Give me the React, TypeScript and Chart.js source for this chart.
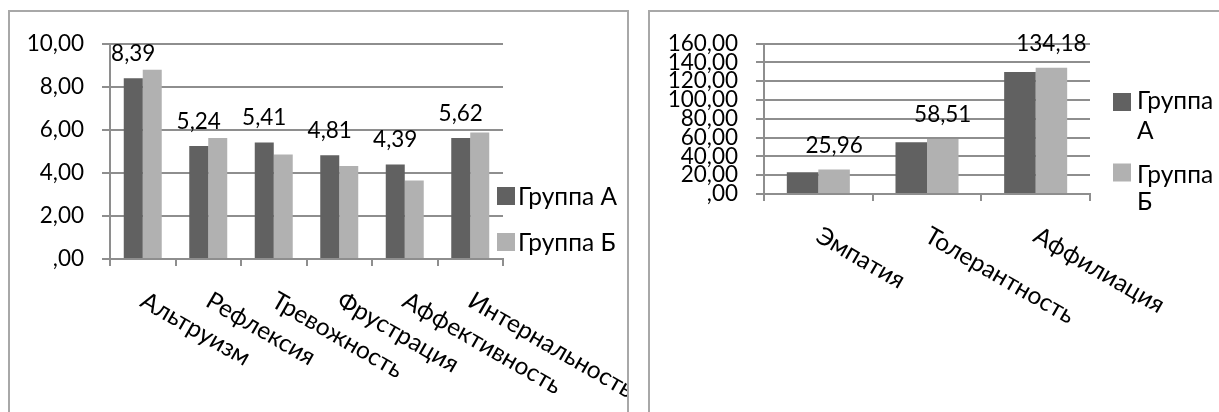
import React, { useEffect, useRef } from "react";
import { Chart, registerables } from "chart.js";

Chart.register(...registerables);

// ---- data ----
const seriesNames = ["Группа А", "Группа Б"];

const leftCategories = [
  "Альтруизм",
  "Рефлексия",
  "Тревожность",
  "Фрустрация",
  "Аффективность",
  "Интернальность",
];
const leftGroupA = [8.39, 5.24, 5.41, 4.81, 4.39, 5.62];
const leftGroupB = [8.78, 5.62, 4.85, 4.31, 3.64, 5.87];
const leftAxisMax = 10;
const leftAxisStep = 2;

const rightCategories = ["Эмпатия", "Толерантность", "Аффилиация"];
const rightGroupA = [23.0, 54.9, 129.7];
const rightGroupB = [25.96, 58.51, 134.18];
const rightAxisMax = 160;
const rightAxisStep = 20;

// ---- styles ----
const FONT = "Lato, 'Open Sans', sans-serif";
const FONT_SIZE = 22.5;
const TEXT_SIZE = 24.5;
const GRID = "#8e8e8e";
const DARK = "#616161";
const LIGHT = "#b1b1b1";

const fmt = (v: number) => {
  const s = v.toFixed(2).replace(".", ",");
  return s.startsWith("0,") ? s.slice(1) : s;
};

type LegendItem = { sqY: number; lines: string[]; baselines: number[] };
type PanelCfg = {
  categories: string[];
  a: number[];
  b: number[];
  max: number;
  step: number;
  labelSeries: number;
  canvasW: number;
  canvasH: number;
  area: { left: number; top: number; right: number; bottom: number };
  legendX: number;
  legendTextX: number;
  legend: LegendItem[];
};

function makeOverlay(cfg: PanelCfg) {
  return {
    id: "overlay",
    afterDraw(chart: any) {
      const ctx: CanvasRenderingContext2D = chart.ctx;
      const xs = chart.scales.x;
      ctx.save();
      ctx.font = `${FONT_SIZE}px ${FONT}`;
      ctx.fillStyle = "#000";

      // value labels
      const meta = chart.getDatasetMeta(cfg.labelSeries);
      const vals = chart.data.datasets[cfg.labelSeries].data as number[];
      meta.data.forEach((el: any, i: number) => {
        ctx.textAlign = "center";
        ctx.textBaseline = "alphabetic";
        ctx.fillText(fmt(vals[i]), el.x, el.y - 17);
      });

      // rotated category labels
      ctx.font = `${TEXT_SIZE}px ${FONT}`;
      const axisY = chart.chartArea.bottom;
      (chart.data.labels as string[]).forEach((lab, i) => {
        const cx = xs.getPixelForValue(i);
        ctx.save();
        ctx.translate(cx - 4, axisY + 46.5);
        ctx.rotate(Math.PI / 6);
        ctx.textAlign = "left";
        ctx.textBaseline = "alphabetic";
        ctx.fillText(lab, 0, 0);
        ctx.restore();
      });

      // legend
      const colors = [DARK, LIGHT];
      cfg.legend.forEach((item, k) => {
        ctx.fillStyle = colors[k];
        ctx.fillRect(cfg.legendX, item.sqY, 18, 18);
        ctx.fillStyle = "#000";
        ctx.textAlign = "left";
        ctx.textBaseline = "alphabetic";
        item.lines.forEach((ln, j) => {
          ctx.fillText(ln, cfg.legendTextX, item.baselines[j]);
        });
      });
      ctx.restore();
    },
  };
}

function Panel({ cfg, boxLeft, boxWidth }: { cfg: PanelCfg; boxLeft: number; boxWidth: number }) {
  const ref = useRef<HTMLCanvasElement>(null);
  useEffect(() => {
    const { area } = cfg;
    const chart = new Chart(ref.current!, {
      type: "bar",
      data: {
        labels: cfg.categories,
        datasets: [
          { label: seriesNames[0], data: cfg.a, backgroundColor: DARK, borderWidth: 0 },
          { label: seriesNames[1], data: cfg.b, backgroundColor: LIGHT, borderWidth: 0 },
        ],
      },
      options: {
        responsive: false,
        animation: false,
        events: [],
        datasets: { bar: { categoryPercentage: 0.58, barPercentage: 1.0 } },
        layout: {
          padding: {
            left: 0,
            top: area.top,
            right: cfg.canvasW - area.right,
            bottom: 0,
          },
        },
        plugins: { legend: { display: false }, tooltip: { enabled: false } },
        scales: {
          x: {
            offset: true,
            grid: {
              offset: true,
              drawOnChartArea: false,
              drawTicks: true,
              tickLength: 7,
              color: GRID,
              lineWidth: 2,
            },
            border: { display: true, color: GRID, width: 2 },
            ticks: { display: false },
            afterFit: (s: any) => {
              s.height = cfg.canvasH - area.bottom;
            },
          },
          y: {
            min: 0,
            max: cfg.max,
            ticks: {
              stepSize: cfg.step,
              autoSkip: false,
              padding: 18,
              color: "#000",
              font: { family: FONT, size: FONT_SIZE },
              callback: (v: any) => fmt(Number(v)),
            },
            grid: { color: GRID, lineWidth: 2, tickLength: 8, drawTicks: true },
            border: { display: true, color: GRID, width: 2 },
            afterFit: (s: any) => {
              s.width = area.left;
            },
          },
        },
      },
      plugins: [makeOverlay(cfg)],
    } as any);
    return () => chart.destroy();
  }, []);
  return (
    <div
      style={{
        position: "absolute",
        left: boxLeft,
        top: 10,
        width: boxWidth,
        height: 450,
        border: "2px solid #a8a8a8",
        boxSizing: "border-box",
        background: "#fff",
        overflow: "hidden",
      }}
    >
      <canvas
        ref={ref}
        width={cfg.canvasW}
        height={cfg.canvasH}
        style={{ display: "block", width: cfg.canvasW, height: cfg.canvasH }}
      />
    </div>
  );
}

const leftCfg: PanelCfg = {
  categories: leftCategories,
  a: leftGroupA,
  b: leftGroupB,
  max: leftAxisMax,
  step: leftAxisStep,
  labelSeries: 0,
  canvasW: 617,
  canvasH: 430,
  area: { left: 100, top: 31, right: 493, bottom: 247 },
  legendX: 487,
  legendTextX: 508,
  legend: [
    { sqY: 175, lines: [seriesNames[0]], baselines: [193] },
    { sqY: 221, lines: [seriesNames[1]], baselines: [238.5] },
  ],
};

const rightCfg: PanelCfg = {
  categories: rightCategories,
  a: rightGroupA,
  b: rightGroupB,
  max: rightAxisMax,
  step: rightAxisStep,
  labelSeries: 1,
  canvasW: 596,
  canvasH: 430,
  area: { left: 114, top: 29, right: 440, bottom: 182 },
  legendX: 463,
  legendTextX: 487,
  legend: [
    { sqY: 81, lines: ["Группа", "А"], baselines: [96.5, 126.5] },
    { sqY: 151.5, lines: ["Группа", "Б"], baselines: [170.5, 197.5] },
  ],
};

export default function App() {
  return (
    <div
      style={{
        position: "fixed",
        left: 0,
        top: 0,
        width: 1219,
        height: 412,
        overflow: "hidden",
        background: "#fff",
      }}
    >
      <Panel cfg={leftCfg} boxLeft={8} boxWidth={621} />
      <Panel cfg={rightCfg} boxLeft={648} boxWidth={600} />
    </div>
  );
}
